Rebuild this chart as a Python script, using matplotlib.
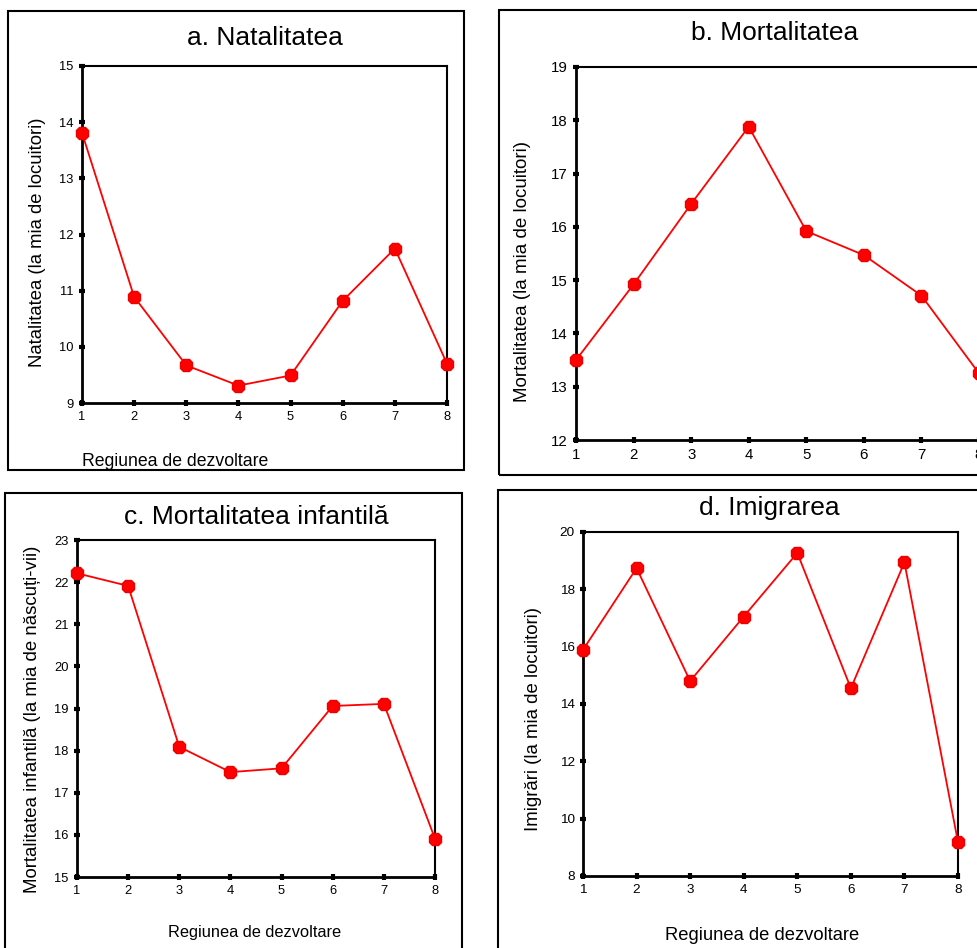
import matplotlib
matplotlib.use("Agg")
import matplotlib.pyplot as plt
from matplotlib.patches import Rectangle

plt.rcParams['font.family'] = ['Liberation Sans', 'DejaVu Sans']

W, H = 978, 948

regions = [1, 2, 3, 4, 5, 6, 7, 8]
natalitate = [13.81, 10.89, 9.67, 9.31, 9.49, 10.82, 11.75, 9.70]
mortalitate = [13.50, 14.92, 16.43, 17.88, 15.92, 15.47, 14.71, 13.25]
mort_infantila = [22.21, 21.91, 18.09, 17.49, 17.58, 19.06, 19.11, 15.91]
imigrari = [15.89, 18.74, 14.80, 17.05, 19.27, 14.55, 18.94, 9.18]

fig = plt.figure(figsize=(W / 100, H / 100), dpi=100)
fig.patch.set_facecolor('white')


def fx(px):
    return px / W


def fy(py):
    return 1 - py / H


def box(x0, y0, x1, y1):
    r = Rectangle((fx(x0), fy(y1)), fx(x1) - fx(x0), fy(y0) - fy(y1),
                  transform=fig.transFigure, fill=False, edgecolor='black',
                  linewidth=1.5, clip_on=False)
    fig.patches.append(r)


def panel(ax_px, data, ylim, yticks, tick_fs):
    l, r, t, b = ax_px
    ax = fig.add_axes([fx(l), fy(b), fx(r) - fx(l), fy(t) - fy(b)])
    ax.plot(regions, data, color='#ff0000', linewidth=1.3, marker='8',
            markersize=10, markerfacecolor='#ff0000', markeredgecolor='#ee0000',
            clip_on=False, zorder=5)
    ax.set_xlim(1, 8)
    ax.set_ylim(*ylim)
    ax.set_xticks(regions)
    ax.set_yticks(yticks)
    for s in ax.spines.values():
        s.set_linewidth(1.5)
    ax.spines['left'].set_linewidth(2)
    ax.spines['bottom'].set_linewidth(2)
    ax.tick_params(direction='inout', length=4, width=3, labelsize=tick_fs,
                   pad=4, colors='black')
    return ax


# Panel a
box(8, 11, 464, 470)
panel((82, 447, 66, 403), natalitate, (9, 15), range(9, 16), 9.3)
fig.text(fx(265), fy(38), 'a. Natalitatea', fontsize=19, ha='center', va='center')
fig.text(fx(38), fy(242), 'Natalitatea (la mia de locuitori)', fontsize=13.3,
         rotation=90, ha='center', va='center')
fig.text(fx(82), fy(461), 'Regiunea de dezvoltare', fontsize=12.7, ha='left', va='center')

# Panel b
box(499, 10, 1000, 475)
panel((576, 979, 67, 440), mortalitate, (12, 19), range(12, 20), 10.8)
fig.text(fx(775), fy(33), 'b. Mortalitatea', fontsize=19, ha='center', va='center')
fig.text(fx(523), fy(272), 'Mortalitatea (la mia de locuitori)', fontsize=13.5,
         rotation=90, ha='center', va='center')

# Panel c
box(5, 493, 462, 970)
panel((77, 435, 540, 877), mort_infantila, (15, 23), range(15, 24), 9.3)
fig.text(fx(256), fy(517), 'c. Mortalitatea infantilă', fontsize=19, ha='center', va='center')
fig.text(fx(33), fy(719), 'Mortalitatea infantilă (la mia de născuți-vii)', fontsize=13.4,
         rotation=90, ha='center', va='center')
fig.text(fx(255), fy(932), 'Regiunea de dezvoltare', fontsize=11.8, ha='center', va='center')

# Panel d
box(498, 490, 1000, 970)
panel((583, 958, 532, 876), imigrari, (8, 20), range(8, 21, 2), 9.7)
fig.text(fx(769), fy(508), 'd. Imigrarea', fontsize=19, ha='center', va='center')
fig.text(fx(533), fy(719), 'Imigrări (la mia de locuitori)', fontsize=13.4,
         rotation=90, ha='center', va='center')
fig.text(fx(762), fy(935), 'Regiunea de dezvoltare', fontsize=13.2, ha='center', va='center')

fig.savefig('out.png', dpi=100, facecolor='white')
